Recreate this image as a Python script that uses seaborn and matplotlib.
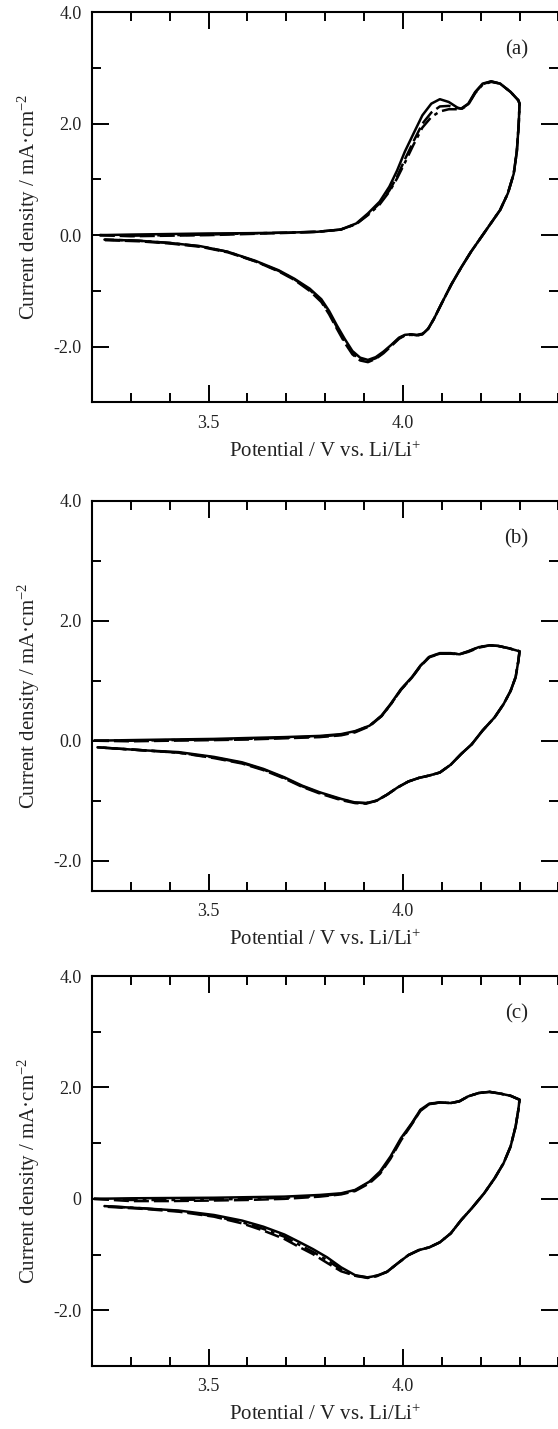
import matplotlib
matplotlib.use("Agg")
import matplotlib.pyplot as plt
import seaborn as sns
import pandas as pd
from matplotlib.ticker import FixedLocator, MultipleLocator, FixedFormatter

sns.set_style("ticks")
plt.rcParams["font.family"] = ["Liberation Serif", "DejaVu Serif"]
plt.rcParams["mathtext.default"] = "regular"

# ---- data (V vs. Li/Li+, mA cm-2) ----
cycles = ["1st", "2nd", "3rd"]
line_styles = {"1st": "-", "2nd": (0, (6, 2)), "3rd": (0, (6, 2, 1.5, 2))}

# (a)
pot_a_up = [3.22, 3.30, 3.40, 3.50, 3.60, 3.70, 3.78, 3.84, 3.88, 3.91, 3.94, 3.965, 3.985,
            4.005, 4.027, 4.05, 4.073, 4.095, 4.118, 4.14, 4.15, 4.168, 4.186, 4.205,
            4.227, 4.25, 4.277, 4.297, 4.30]
cur_a_up = {
    "1st": [0.0, 0.01, 0.02, 0.03, 0.035, 0.045, 0.06, 0.1, 0.21, 0.39, 0.6, 0.87, 1.16,
            1.5, 1.82, 2.15, 2.36, 2.44, 2.39, 2.29, 2.27, 2.36, 2.57, 2.72, 2.76, 2.72,
            2.57, 2.42, 2.36],
    "2nd": [0.0, -0.02, -0.01, 0.0, 0.02, 0.04, 0.06, 0.1, 0.2, 0.37, 0.57, 0.8, 1.05,
            1.36, 1.68, 2.0, 2.2, 2.31, 2.32, 2.28, 2.27, 2.35, 2.56, 2.71, 2.76, 2.72,
            2.57, 2.42, 2.36],
    "3rd": [0.0, -0.01, 0.0, 0.01, 0.03, 0.045, 0.06, 0.1, 0.2, 0.36, 0.55, 0.78, 1.02,
            1.3, 1.62, 1.93, 2.12, 2.22, 2.26, 2.26, 2.26, 2.34, 2.55, 2.7, 2.75, 2.72,
            2.57, 2.42, 2.36],
}
pot_a_dn = [4.30, 4.298, 4.293, 4.285, 4.27, 4.25, 4.225, 4.20, 4.175, 4.15, 4.125, 4.10,
            4.08, 4.065, 4.05, 4.036, 4.02, 4.005, 3.99, 3.97, 3.95, 3.93, 3.91, 3.89,
            3.87, 3.85, 3.83, 3.81, 3.79, 3.76, 3.72, 3.68, 3.62, 3.55, 3.48, 3.40, 3.32,
            3.232]
cur_a_dn = {
    "1st": [2.36, 2.0, 1.5, 1.1, 0.75, 0.45, 0.2, -0.05, -0.3, -0.58, -0.88, -1.22, -1.5,
            -1.68, -1.78, -1.8, -1.78, -1.79, -1.84, -1.97, -2.09, -2.19, -2.24, -2.2,
            -2.08, -1.86, -1.62, -1.36, -1.15, -0.96, -0.78, -0.63, -0.46, -0.3, -0.2,
            -0.14, -0.1, -0.08],
    "2nd": [2.36, 2.0, 1.5, 1.1, 0.75, 0.45, 0.2, -0.05, -0.3, -0.58, -0.88, -1.22, -1.5,
            -1.68, -1.77, -1.79, -1.78, -1.8, -1.86, -1.99, -2.12, -2.22, -2.28, -2.25,
            -2.14, -1.93, -1.68, -1.42, -1.2, -1.0, -0.8, -0.65, -0.47, -0.31, -0.21,
            -0.15, -0.11, -0.09],
    "3rd": [2.36, 2.0, 1.5, 1.1, 0.75, 0.45, 0.2, -0.05, -0.3, -0.58, -0.88, -1.22, -1.5,
            -1.68, -1.78, -1.8, -1.79, -1.8, -1.85, -1.98, -2.11, -2.21, -2.26, -2.23,
            -2.12, -1.9, -1.65, -1.39, -1.18, -0.98, -0.79, -0.64, -0.47, -0.3, -0.2,
            -0.14, -0.1, -0.08],
}

# (b)
pot_b_up = [3.205, 3.30, 3.40, 3.514, 3.60, 3.695, 3.786, 3.841, 3.877, 3.914, 3.945,
            3.968, 3.995, 4.023, 4.045, 4.068, 4.095, 4.123, 4.145, 4.168, 4.195, 4.223,
            4.245, 4.273, 4.30]
cur_b_up = {
    "1st": [0.0, 0.01, 0.02, 0.03, 0.045, 0.06, 0.08, 0.11, 0.16, 0.25, 0.42, 0.61, 0.86,
            1.06, 1.25, 1.4, 1.46, 1.46, 1.44, 1.49, 1.56, 1.59, 1.58, 1.54, 1.49],
    "2nd": [0.0, -0.01, 0.0, 0.01, 0.02, 0.04, 0.06, 0.09, 0.14, 0.24, 0.41, 0.6, 0.85,
            1.05, 1.24, 1.39, 1.45, 1.45, 1.44, 1.48, 1.55, 1.59, 1.58, 1.54, 1.49],
    "3rd": [0.0, 0.0, 0.01, 0.02, 0.03, 0.05, 0.07, 0.1, 0.15, 0.25, 0.41, 0.6, 0.85,
            1.05, 1.25, 1.4, 1.45, 1.46, 1.44, 1.49, 1.56, 1.59, 1.58, 1.54, 1.49],
}
pot_b_dn = [4.30, 4.297, 4.29, 4.277, 4.259, 4.236, 4.205, 4.177, 4.15, 4.123, 4.095,
            4.068, 4.041, 4.014, 3.986, 3.959, 3.932, 3.905, 3.877, 3.841, 3.786, 3.741,
            3.695, 3.641, 3.586, 3.514, 3.423, 3.332, 3.214]
cur_b_dn = {
    "1st": [1.49, 1.33, 1.06, 0.83, 0.61, 0.39, 0.17, -0.06, -0.22, -0.4, -0.53, -0.58,
            -0.62, -0.68, -0.78, -0.9, -1.0, -1.04, -1.03, -0.97, -0.86, -0.75, -0.61,
            -0.47, -0.36, -0.27, -0.19, -0.16, -0.11],
    "2nd": [1.49, 1.33, 1.06, 0.83, 0.61, 0.39, 0.17, -0.06, -0.22, -0.4, -0.53, -0.58,
            -0.62, -0.68, -0.78, -0.9, -1.0, -1.05, -1.04, -0.99, -0.88, -0.77, -0.63,
            -0.49, -0.38, -0.29, -0.2, -0.16, -0.11],
    "3rd": [1.49, 1.33, 1.06, 0.83, 0.61, 0.39, 0.17, -0.06, -0.22, -0.4, -0.53, -0.58,
            -0.62, -0.68, -0.78, -0.9, -1.0, -1.04, -1.03, -0.98, -0.87, -0.76, -0.62,
            -0.48, -0.37, -0.28, -0.2, -0.16, -0.11],
}

# (c)
pot_c_up = [3.205, 3.30, 3.40, 3.514, 3.60, 3.695, 3.786, 3.841, 3.877, 3.914, 3.941,
            3.968, 3.995, 4.023, 4.045, 4.068, 4.095, 4.123, 4.145, 4.168, 4.195, 4.223,
            4.25, 4.277, 4.30]
cur_c_up = {
    "1st": [0.0, 0.01, 0.015, 0.02, 0.03, 0.04, 0.07, 0.1, 0.16, 0.31, 0.49, 0.76, 1.09,
            1.36, 1.6, 1.71, 1.73, 1.72, 1.75, 1.84, 1.9, 1.92, 1.89, 1.85, 1.78],
    "2nd": [0.0, -0.04, -0.04, -0.03, -0.02, 0.0, 0.04, 0.08, 0.14, 0.28, 0.45, 0.72,
            1.05, 1.34, 1.58, 1.7, 1.73, 1.72, 1.75, 1.84, 1.9, 1.92, 1.89, 1.85, 1.78],
    "3rd": [0.0, -0.02, -0.02, -0.01, 0.0, 0.02, 0.05, 0.09, 0.15, 0.3, 0.47, 0.74, 1.07,
            1.35, 1.59, 1.7, 1.73, 1.72, 1.75, 1.84, 1.9, 1.92, 1.89, 1.85, 1.78],
}
pot_c_dn = [4.30, 4.297, 4.29, 4.277, 4.259, 4.236, 4.209, 4.177, 4.15, 4.123, 4.095,
            4.068, 4.041, 4.014, 3.986, 3.959, 3.932, 3.909, 3.877, 3.841, 3.805, 3.768,
            3.732, 3.695, 3.641, 3.586, 3.514, 3.423, 3.332, 3.232]
cur_c_dn = {
    "1st": [1.78, 1.6, 1.3, 0.94, 0.64, 0.37, 0.1, -0.17, -0.38, -0.62, -0.78, -0.87,
            -0.92, -1.01, -1.16, -1.31, -1.38, -1.41, -1.37, -1.23, -1.05, -0.9, -0.77,
            -0.64, -0.5, -0.39, -0.29, -0.21, -0.17, -0.13],
    "2nd": [1.78, 1.6, 1.3, 0.94, 0.64, 0.37, 0.1, -0.17, -0.38, -0.62, -0.78, -0.87,
            -0.92, -1.01, -1.16, -1.31, -1.39, -1.42, -1.38, -1.3, -1.15, -0.99, -0.86,
            -0.72, -0.57, -0.44, -0.32, -0.23, -0.18, -0.14],
    "3rd": [1.78, 1.6, 1.3, 0.94, 0.64, 0.37, 0.1, -0.17, -0.38, -0.62, -0.78, -0.87,
            -0.92, -1.01, -1.16, -1.31, -1.38, -1.41, -1.38, -1.27, -1.1, -0.95, -0.82,
            -0.68, -0.54, -0.42, -0.31, -0.22, -0.17, -0.13],
}

panel_tags = ["(a)", "(b)", "(c)"]
panel_ylim = [(-3, 4), (-2.5, 4), (-3, 4)]
ytick_vals = [-2, 0, 2, 4]
ytick_text = [["-2.0", "0.0", "2.0", "4.0"],
              ["-2.0", "0.0", "2.0", "4.0"],
              ["-2.0", "0", "2.0", "4.0"]]
xtick_vals = [3.5, 4.0]
xtick_text = ["3.5", "4.0"]

panels = [(pot_a_up, cur_a_up, pot_a_dn, cur_a_dn),
          (pot_b_up, cur_b_up, pot_b_dn, cur_b_dn),
          (pot_c_up, cur_c_up, pot_c_dn, cur_c_dn)]

# ---- figure ----
fig = plt.figure(figsize=(5.58, 14.29), dpi=100)
# the right frame edge falls just outside the picture in the original
boxes = [[0.1649, 0.7185, 0.8358, 0.2729],
         [0.1649, 0.3767, 0.8358, 0.2729],
         [0.1649, 0.0441, 0.8358, 0.2729]]

for i, (pu, cu, pd_, cd) in enumerate(panels):
    ax = fig.add_axes(boxes[i])
    for cyc in reversed(cycles):
        df = pd.DataFrame({"potential": pu + pd_, "current": cu[cyc] + cd[cyc]})
        sns.lineplot(data=df, x="potential", y="current", sort=False, estimator=None,
                     color="black", lw=1.8, linestyle=line_styles[cyc], ax=ax)

    ax.set_xlim(3.2, 4.4)
    ax.set_ylim(*panel_ylim[i])
    ax.xaxis.set_major_locator(FixedLocator(xtick_vals))
    ax.xaxis.set_major_formatter(FixedFormatter(xtick_text))
    ax.xaxis.set_minor_locator(MultipleLocator(0.1))
    ax.yaxis.set_major_locator(FixedLocator(ytick_vals))
    ax.yaxis.set_major_formatter(FixedFormatter(ytick_text[i]))
    ax.yaxis.set_minor_locator(MultipleLocator(1))
    ax.tick_params(which="both", direction="in", top=True, right=True,
                   width=1.4, color="black", labelsize=13, labelcolor="#222222")
    ax.tick_params(which="major", length=12)
    ax.tick_params(which="minor", length=6.5)
    ax.tick_params(axis="x", which="major", pad=9)
    ax.tick_params(axis="y", which="major", pad=7.5)
    for sp in ax.spines.values():
        sp.set_linewidth(1.5)
        sp.set_color("black")
    ax.spines["right"].set_visible(False)

    ax.set_xlabel("Potential / V vs. Li/Li$^{+}$", fontsize=15, labelpad=7, color="#222222")
    ax.set_ylabel("Current density / mA·cm$^{-2}$", fontsize=15, labelpad=8.5, color="#222222")
    ax.text(0.91, 0.903, panel_tags[i], transform=ax.transAxes, ha="center", va="center",
            fontsize=15, color="#222222")

fig.savefig("out.png", dpi=100)
